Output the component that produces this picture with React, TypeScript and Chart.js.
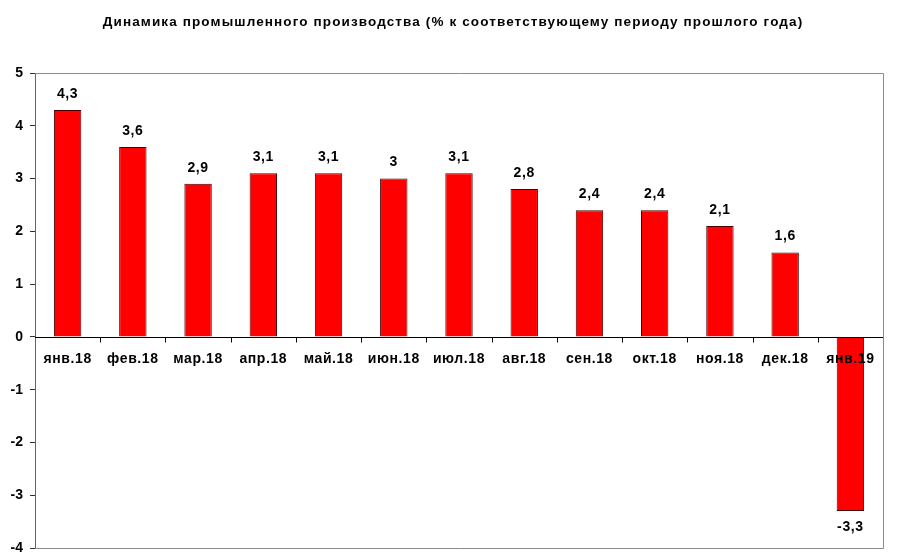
import React, { useEffect, useRef } from "react";
import { Chart, registerables } from "chart.js";

Chart.register(...registerables);

const TITLE = "Динамика промышленного производства (% к соответствующему периоду прошлого года)";
const categories = ["янв.18", "фев.18", "мар.18", "апр.18", "май.18", "июн.18", "июл.18", "авг.18", "сен.18", "окт.18", "ноя.18", "дек.18", "янв.19"];
const values = [4.3, 3.6, 2.9, 3.1, 3.1, 3.0, 3.1, 2.8, 2.4, 2.4, 2.1, 1.6, -3.3];
const yTicks = [5, 4, 3, 2, 1, 0, -1, -2, -3, -4];

const FONT = "Arial, 'Liberation Sans', sans-serif";

const overlay = {
  id: "overlay",
  beforeDatasetsDraw(chart: any) {
    const { ctx, chartArea } = chart;
    const { left, right, top, bottom } = chartArea;
    ctx.save();
    ctx.strokeStyle = "#8c8c8c";
    ctx.lineWidth = 1;
    ctx.beginPath();
    ctx.moveTo(left, top + 0.5);
    ctx.lineTo(right + 0.5, top + 0.5);
    ctx.lineTo(right + 0.5, bottom + 0.5);
    ctx.lineTo(left, bottom + 0.5);
    ctx.stroke();
    ctx.restore();
  },
  afterDatasetsDraw(chart: any) {
    const { ctx, chartArea, scales } = chart;
    const { left, right } = chartArea;
    const y0 = Math.round(scales.y.getPixelForValue(0)) + 0.5;
    const n = categories.length;
    const w = (right - left) / n;
    ctx.save();
    ctx.strokeStyle = "#000";
    ctx.lineWidth = 1;
    ctx.beginPath();
    ctx.moveTo(left, y0);
    ctx.lineTo(right, y0);
    for (let i = 1; i < n; i++) {
      const x = Math.round(left + i * w) + 0.5;
      ctx.moveTo(x, y0);
      ctx.lineTo(x, y0 + 5);
    }
    ctx.stroke();
    ctx.fillStyle = "#000";
    ctx.font = `bold 14px ${FONT}`;
    (ctx as any).letterSpacing = "0.6px";
    ctx.textAlign = "center";
    ctx.textBaseline = "middle";
    const meta = chart.getDatasetMeta(0);
    categories.forEach((c, i) => {
      ctx.fillText(c, meta.data[i].x, y0 + 22);
    });
    values.forEach((v, i) => {
      const bar = meta.data[i];
      const txt = String(v).replace(".", ",");
      const y = v >= 0 ? bar.y - 16 : bar.y + 16;
      ctx.fillText(txt, bar.x, y);
    });
    ctx.font = `bold 13.5px ${FONT}`;
    (ctx as any).letterSpacing = "1.12px";
    ctx.fillText(TITLE, chart.width / 2, 22);
    ctx.restore();
  },
};

export default function App() {
  const ref = useRef<HTMLCanvasElement>(null);
  useEffect(() => {
    if (!ref.current) return;
    const chart = new Chart(ref.current, {
      type: "bar",
      data: {
        labels: categories,
        datasets: [
          {
            data: values,
            backgroundColor: "#ff0000",
            borderColor: "#4a0000",
            borderWidth: 1,
            barPercentage: 0.42,
            categoryPercentage: 1,
          },
        ],
      },
      options: {
        animation: false,
        responsive: false,
        maintainAspectRatio: false,
        layout: { padding: { top: 73, right: 23, bottom: 9, left: 0 } },
        plugins: { legend: { display: false }, tooltip: { enabled: false }, title: { display: false } },
        scales: {
          x: { display: false },
          y: {
            min: -4,
            max: 5,
            afterFit(axis: any) {
              axis.width = 35;
              axis.paddingTop = 0;
              axis.paddingBottom = 0;
            },
            afterBuildTicks(axis: any) {
              axis.ticks = yTicks.map((v) => ({ value: v }));
            },
            grid: { drawOnChartArea: false, drawTicks: true, tickLength: 5, color: "#333" },
            border: { color: "#666", width: 1 },
            ticks: {
              color: "#000",
              padding: 7,
              font: { family: FONT, size: 14, weight: "bold" },
              callback: (v: any) => String(v),
            },
          },
        },
      },
      plugins: [overlay],
    });
    return () => chart.destroy();
  }, []);
  return (
    <div style={{ position: "fixed", left: 0, top: 0, width: 906, height: 557, background: "#fff" }}>
      <canvas ref={ref} width={906} height={557} style={{ width: 906, height: 557 }} />
    </div>
  );
}
